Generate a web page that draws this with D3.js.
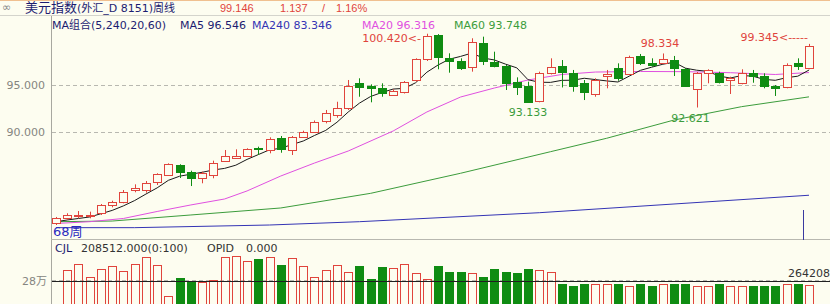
<!DOCTYPE html>
<html>
<head>
<meta charset="utf-8">
<script src="https://cdn.jsdelivr.net/npm/d3@7"></script>
<style>
  body { margin: 0; background: #fdfdf0; }
  svg { display: block; font-family: "DejaVu Sans", "Noto Sans CJK SC", sans-serif; }
</style>
</head>
<body>
<svg id="chart" width="830" height="304"></svg>
<script>
// weekly candles (index 0 = oldest week)
const opens = [80.38, 80.91, 81.15, 81.15, 81.44, 82.32, 82.60, 83.83, 83.90, 84.67,
  85.49, 86.54, 85.77, 85.14, 85.49, 87.00, 87.36, 87.49, 88.31, 88.20,
  89.45, 88.20, 89.53, 90.06, 91.19, 91.83, 92.60, 95.18, 94.89, 94.65,
  93.94, 94.23, 95.53, 97.82, 100.30, 97.82, 97.54, 96.87, 99.47, 97.40,
  97.01, 95.35, 94.89, 93.23, 96.24, 96.96, 96.30, 95.26, 94.05, 96.00,
  96.77, 96.16, 98.07, 97.36, 97.33, 97.64, 96.67, 94.58, 96.24, 96.24,
  95.45, 95.18, 96.24, 95.95, 94.93, 94.76, 97.36, 96.77];
const closes = [80.91, 81.26, 81.26, 81.26, 82.28, 82.66, 83.66, 84.08, 84.67, 85.56,
  86.65, 85.84, 85.14, 85.67, 86.79, 87.49, 87.53, 88.20, 88.20, 89.32,
  88.29, 89.53, 90.06, 91.12, 92.01, 92.60, 94.93, 94.76, 94.65, 94.12,
  94.40, 95.29, 97.75, 100.21, 97.93, 97.46, 96.77, 99.51, 97.57, 96.93,
  95.24, 94.82, 93.23, 96.24, 96.85, 96.32, 94.89, 94.26, 95.53, 96.16,
  95.74, 97.99, 97.33, 97.19, 97.73, 96.77, 94.89, 96.24, 96.59, 95.24,
  95.71, 96.24, 95.88, 94.89, 94.76, 97.11, 97.01, 99.146];
const highs = [81.05, 81.44, 81.68, 81.61, 82.42, 82.77, 83.90, 84.50, 84.85, 85.67,
  86.72, 86.62, 85.94, 85.84, 87.00, 88.13, 88.20, 88.31, 88.48, 89.47,
  89.61, 89.61, 90.17, 91.25, 92.36, 93.23, 95.53, 95.71, 95.07, 95.18,
  94.55, 95.42, 97.82, 100.42, 100.38, 98.35, 97.82, 99.94, 100.11, 98.52,
  97.11, 95.81, 95.35, 96.41, 97.82, 97.64, 96.59, 95.53, 95.71, 96.59,
  97.29, 98.10, 98.28, 97.82, 98.334, 98.07, 96.80, 96.37, 96.66, 96.41,
  95.88, 96.66, 96.59, 96.24, 95.00, 97.29, 97.82, 99.345];
const lows = [80.20, 80.73, 80.91, 80.91, 81.26, 82.07, 82.49, 83.66, 83.62, 84.43,
  85.38, 85.17, 84.32, 84.61, 85.14, 86.89, 87.18, 87.39, 87.60, 87.78,
  87.84, 87.60, 89.47, 89.98, 90.95, 91.54, 92.36, 93.76, 93.17, 93.76,
  93.84, 94.10, 95.35, 97.54, 96.66, 96.30, 96.59, 96.41, 97.11, 96.87,
  94.47, 93.94, 93.133, 93.17, 96.11, 94.74, 94.29, 93.41, 93.76, 94.65,
  95.45, 96.06, 97.11, 96.93, 97.22, 95.95, 94.79, 92.621, 95.18, 95.16,
  94.05, 95.07, 95.24, 94.65, 93.84, 94.65, 96.59, 96.66];
// volume in 万
const volumes = [18.0, 31.8, 33.8, 29.2, 32.1, 33.2, 31.4, 33.8, 36.3, 33.5,
  22.4, 28.8, 27.9, 27.3, 28.2, 36.3, 36.5, 34.7, 35.6, 36.3,
  33.3, 35.8, 33.2, 29.2, 31.7, 33.4, 31.1, 33.2, 28.6, 32.7,
  32.5, 33.8, 30.8, 28.5, 33.2, 31.1, 31.1, 30.8, 29.3, 32.0,
  31.1, 30.6, 32.0, 31.8, 31.1, 26.8, 26.1, 26.6, 26.6, 26.6,
  26.8, 26.1, 26.6, 26.1, 26.6, 26.6, 26.6, 26.1, 26.1, 26.6,
  26.1, 26.1, 26.1, 26.1, 26.1, 26.6, 26.6, 26.4208];

// moving averages read at a few weeks (index, value)
const ma5Head = [80.55, 80.73, 80.89, 81.05];
const ma20Idx = [0, 3, 6, 9, 12, 15, 17, 20, 23, 26, 30, 33, 36, 39, 42, 45, 48, 52, 56, 60, 64, 67];
const ma20Val = [80.36, 80.55, 80.89, 81.63, 82.32, 82.95, 83.80, 85.38, 86.75, 88.02, 90.14, 92.15,
  93.73, 94.68, 95.53, 96.11, 96.37, 96.43, 96.41, 96.30, 96.11, 96.316];
const ma60Idx = [0, 5, 12, 20, 28, 36, 44, 49, 55, 61, 67];
const ma60Val = [80.55, 80.62, 81.26, 82.00, 83.55, 85.67, 87.95, 89.37, 91.30, 92.71, 93.748];
const ma240Idx = [0, 7, 19, 27, 43, 67];
const ma240Val = [79.92, 79.92, 80.20, 80.55, 81.50, 83.346];

const priceTicks = [90, 95];
const volTicks = [28];
const volBase = 27.8;

const svg = d3.select("#chart");
const W = 830, left = 51;
const red = "#e0443c", green = "#0f8c12";

svg.append("rect").attr("width", W).attr("height", 304).attr("fill", "#fdfdf0");

const x = d3.scaleLinear().domain([0, opens.length - 1]).range([56, 809]);
const y = d3.scaleLinear().domain([90, 95]).range([132.3, 85]);
const yv = d3.scaleLinear().domain([0, 28]).range([360, 280.5]);

// header
svg.append("line").attr("x1", 0).attr("x2", W).attr("y1", 0.5).attr("y2", 0.5).attr("stroke", "#f0c090");
svg.append("line").attr("x1", 0).attr("x2", W).attr("y1", 15.5).attr("y2", 15.5).attr("stroke", "#d4d4cc");
svg.append("text").attr("x", 2).attr("y", 11).attr("font-size", 11).attr("fill", "#888").text("∞");
const head = svg.append("text").attr("x", 25).attr("y", 12).attr("fill", "#1c1c70");
head.append("tspan").attr("font-size", 13).text("美元指数");
head.append("tspan").attr("font-size", 11).text("(外汇_D 8151)周线");
svg.append("text").attr("x", 220).attr("y", 12).attr("font-size", 11).attr("font-family", "Liberation Sans")
  .attr("fill", red).text("99.146");
svg.append("text").attr("x", 280).attr("y", 12).attr("font-size", 11).attr("font-family", "Liberation Sans")
  .attr("fill", red).text("1.137");
svg.append("text").attr("x", 322).attr("y", 12).attr("font-size", 11).attr("font-family", "Liberation Sans")
  .attr("fill", red).text("/");
svg.append("text").attr("x", 336).attr("y", 12).attr("font-size", 11).attr("font-family", "Liberation Sans")
  .attr("fill", red).text("1.16%");

// legend row
const legend = [
  { x: 52, t: "MA组合(5,240,20,60)", c: "#1c1c70" },
  { x: 180, t: "MA5 96.546", c: "#1c1c70" },
  { x: 252, t: "MA240 83.346", c: "#3434b4" },
  { x: 362, t: "MA20 96.316", c: "#e050e0" },
  { x: 454, t: "MA60 93.748", c: "#3c9c3c" }
];
svg.selectAll(".leg").data(legend).enter().append("text")
  .attr("x", d => d.x).attr("y", 29).attr("font-size", 11).attr("fill", d => d.c).text(d => d.t);

// axis + grid
svg.append("line").attr("x1", left + 0.5).attr("x2", left + 0.5).attr("y1", 16).attr("y2", 304).attr("stroke", "#a8a8a0");
svg.selectAll(".grid").data(priceTicks).enter().append("line")
  .attr("x1", left + 1).attr("x2", W).attr("y1", d => Math.round(y(d)) + 0.5).attr("y2", d => Math.round(y(d)) + 0.5)
  .attr("stroke", "#b8b8b0").attr("stroke-dasharray", "4,3");
const ax = svg.append("g").attr("transform", `translate(${left - 3},0)`)
  .call(d3.axisLeft(y).tickValues(priceTicks).tickFormat(d3.format(".3f")).tickSize(0));
ax.select(".domain").remove();
ax.selectAll("text").attr("font-size", 11).attr("fill", "#858580").attr("font-family", "DejaVu Sans");

// moving averages
const line = d3.line().x(d => x(d[0])).y(d => y(d[1]));
const ma5 = closes.map((c, i) => [i, i < 4 ? ma5Head[i] : d3.mean(closes.slice(i - 4, i + 1))]);
const maSeries = [
  { pts: ma240Idx.map((d, i) => [d, ma240Val[i]]), c: "#3434b4" },
  { pts: ma60Idx.map((d, i) => [d, ma60Val[i]]), c: "#3c9c3c" },
  { pts: ma20Idx.map((d, i) => [d, ma20Val[i]]), c: "#e050e0" },
  { pts: ma5, c: "#1a1a1a" }
];
svg.selectAll(".ma").data(maSeries).enter().append("path")
  .attr("d", d => line(d.pts)).attr("fill", "none").attr("stroke", d => d.c).attr("stroke-width", 1);

// candles
const candles = opens.map((o, i) => ({ i, o, c: closes[i], h: highs[i], l: lows[i], up: closes[i] >= o }));
const cg = svg.selectAll(".cdl").data(candles).enter().append("g");
cg.append("line")
  .attr("x1", d => Math.round(x(d.i)) + 0.5).attr("x2", d => Math.round(x(d.i)) + 0.5)
  .attr("y1", d => y(d.h)).attr("y2", d => y(d.l))
  .attr("stroke", d => d.up ? red : green);
cg.append("rect")
  .attr("x", d => Math.round(x(d.i)) - 3.5)
  .attr("y", d => Math.round(y(Math.max(d.o, d.c))) + 0.5)
  .attr("width", 8)
  .attr("height", d => Math.max(1, Math.round(Math.abs(y(d.o) - y(d.c)))))
  .attr("fill", d => d.up ? "#fdfdf0" : green)
  .attr("stroke", d => d.up ? red : green);

// price labels
const marks = [
  { i: 33, v: 100.42, t: "100.420<-", c: red, anchor: "end", dx: -6, dy: 8.5 },
  { i: 67, v: 99.345, t: "99.345<-----", c: red, anchor: "end", dx: -1, dy: -2.5 },
  { i: 54, v: 98.334, t: "98.334", c: red, anchor: "middle", dx: -3, dy: -6 },
  { i: 42, v: 93.133, t: "93.133", c: "#3c9c3c", anchor: "middle", dx: 0, dy: 13 },
  { i: 57, v: 92.621, t: "92.621", c: "#3c9c3c", anchor: "middle", dx: -6, dy: 14 }
];
svg.selectAll(".mk").data(marks).enter().append("text")
  .attr("x", d => x(d.i) + d.dx).attr("y", d => y(d.v) + d.dy)
  .attr("text-anchor", d => d.anchor).attr("font-size", 11).attr("fill", d => d.c).text(d => d.t);

svg.append("text").attr("x", 53).attr("y", 236).attr("font-size", 13).attr("fill", "#2a2ac0").text("68周");

// pane separator and cursor line
svg.append("line").attr("x1", left).attr("x2", W).attr("y1", 239.5).attr("y2", 239.5).attr("stroke", "#b8b8b0");
svg.append("line").attr("x1", 803.5).attr("x2", 803.5).attr("y1", 210).attr("y2", 240).attr("stroke", "#3a3aa0");

// volume pane
const vt = svg.append("text").attr("x", 55).attr("y", 252).attr("font-size", 11).attr("fill", "#333");
vt.append("tspan").attr("fill", "#1c1c70").text("CJL");
vt.append("tspan").attr("x", 81).text("208512.000(0:100)");
vt.append("tspan").attr("x", 207).text("OPID");
vt.append("tspan").attr("x", 246).text("0.000");

svg.selectAll(".vgrid").data(volTicks).enter().append("line")
  .attr("x1", left + 1).attr("x2", W).attr("y1", d => Math.round(yv(d)) - 0.5).attr("y2", d => Math.round(yv(d)) - 0.5)
  .attr("stroke", "#b8b8b0").attr("stroke-dasharray", "4,3");
svg.selectAll(".vlab").data(volTicks).enter().append("text")
  .attr("x", 47).attr("y", d => yv(d) + 4).attr("text-anchor", "end").attr("font-size", 11)
  .attr("fill", "#858580").text(d => d + "万");

svg.selectAll(".vol").data(candles).enter().append("rect")
  .attr("x", d => Math.round(x(d.i)) - 3.5)
  .attr("y", d => Math.round(yv(volumes[d.i])) + 0.5)
  .attr("width", 8)
  .attr("height", d => 360 - yv(volumes[d.i]))
  .attr("fill", d => d.up ? "none" : green)
  .attr("stroke", d => d.up ? red : green);

svg.append("line").attr("x1", left + 1).attr("x2", W).attr("y1", Math.round(yv(volBase)) + 0.5).attr("y2", Math.round(yv(volBase)) + 0.5)
  .attr("stroke", "#202020");
svg.append("text").attr("x", 830).attr("y", 277).attr("text-anchor", "end").attr("font-size", 11)
  .attr("fill", "#333").text(d3.format("d")(Math.round(volumes[volumes.length - 1] * 10000)));
</script>
</body>
</html>
